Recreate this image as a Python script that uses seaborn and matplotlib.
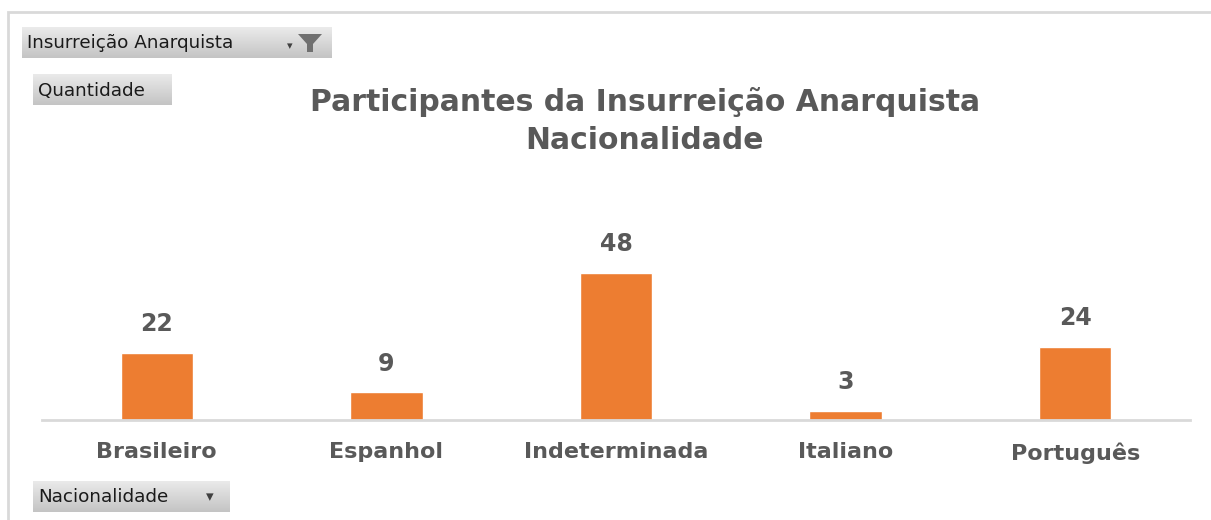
import matplotlib
matplotlib.use('Agg')
import matplotlib.pyplot as plt
import seaborn as sns
import numpy as np
import pandas as pd
from matplotlib.patches import Rectangle, Polygon

# Dados
nacionalidades = ['Brasileiro', 'Espanhol', 'Indeterminada', 'Italiano', 'Português']
quantidade = [22, 9, 48, 3, 24]

titulo = 'Participantes da Insurreição Anarquista\nNacionalidade'
filtro = 'Insurreição Anarquista'
valor_btn = 'Quantidade'
eixo_btn = 'Nacionalidade'

df = pd.DataFrame({'Nacionalidade': nacionalidades, 'Quantidade': quantidade})

sns.set_style('white')
plt.rcParams['font.family'] = ['DejaVu Sans']

W, H = 1211, 520
fig = plt.figure(figsize=(W / 100, H / 100), dpi=100)

def fx(px):
    return px / W

def fy(py):
    return 1 - py / H

txt = '#595959'
orange = '#ED7D31'

# moldura do gráfico dinâmico
fig.patches.append(Rectangle((fx(8), fy(600)), fx(1300), 588 / H, transform=fig.transFigure,
                             fill=False, edgecolor='#D9D9D9', linewidth=2))

# eixos: linha de base em y=420 px, de x=42 a 1190
ax = fig.add_axes([fx(42), fy(420), fx(1148), 250 / H])
sns.barplot(data=df, x='Nacionalidade', y='Quantidade', color=orange, width=0.315,
            saturation=1, ax=ax)
ax.set_ylim(0, 250 / 3.06)
ax.set_xlim(-0.5, 4.5)
for s in ['top', 'right', 'left']:
    ax.spines[s].set_visible(False)
ax.spines['bottom'].set_color('#D9D9D9')
ax.spines['bottom'].set_linewidth(2)
ax.set_yticks([])
ax.set_xlabel('')
ax.set_ylabel('')
ax.tick_params(axis='x', length=0, pad=16)
for lab in ax.get_xticklabels():
    lab.set_fontsize(16)
    lab.set_fontweight('bold')
    lab.set_color(txt)
ax.bar_label(ax.containers[0], padding=12, fontsize=17, fontweight='bold', color=txt)

# título
fig.text(fx(645), fy(121), titulo, ha='center', va='center', fontsize=21.5,
         fontweight='bold', color=txt, linespacing=1.38)

# botões do gráfico dinâmico (com gradiente)
grad = np.linspace(0, 1, 64).reshape(-1, 1)

def botao(x0, y0, x1, y1, texto):
    bax = fig.add_axes([fx(x0), fy(y1), fx(x1 - x0), (y1 - y0) / H])
    bax.imshow(grad, aspect='auto', cmap=sns.blend_palette(['#EBEBEB', '#C4C4C4'], as_cmap=True),
               extent=[0, 1, 0, 1])
    bax.set_axis_off()
    fig.text(fx(x0 + 5), fy((y0 + y1) / 2 + 1), texto, ha='left', va='center',
             fontsize=13.2, color='#1a1a1a')

botao(22, 27, 332, 58, filtro)
botao(33, 74, 172, 105, valor_btn)
botao(33, 481, 230, 512, eixo_btn)

# ícone de filtro e setas
fig.text(fx(290), fy(46), '▾', ha='center', va='center', fontsize=8, color='#404040')
fig.patches.append(Polygon([(fx(298), fy(34)), (fx(322), fy(34)), (fx(313), fy(44)),
                            (fx(313), fy(52)), (fx(307), fy(52)), (fx(307), fy(44))],
                           closed=True, transform=fig.transFigure, facecolor='#707070',
                           edgecolor='none', zorder=5))
fig.text(fx(210), fy(497), '▾', ha='center', va='center', fontsize=11, color='#404040')

fig.savefig('out.png', dpi=100)
